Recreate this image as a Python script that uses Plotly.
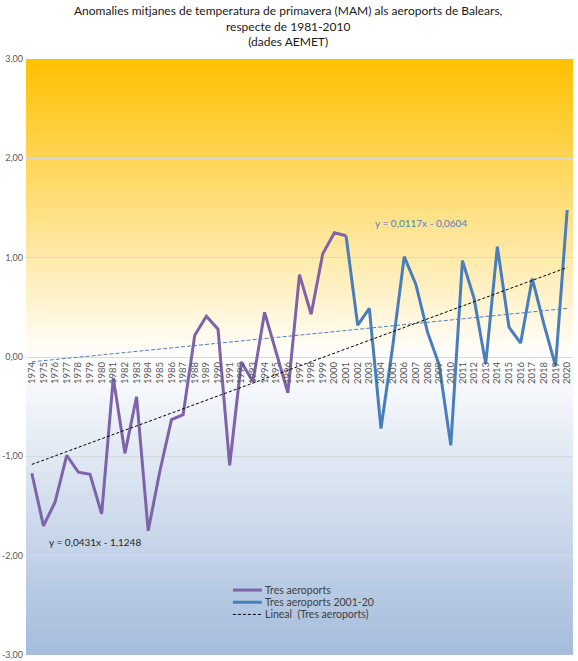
import plotly.graph_objects as go

# ---- data ----
years = [str(y) for y in range(1974, 2021)]
tres_years = [str(y) for y in range(1974, 2002)]
tres_vals = [-1.17, -1.70, -1.46, -0.99, -1.16, -1.18, -1.58, -0.21, -0.97, -0.40,
             -1.75, -1.15, -0.63, -0.58, 0.22, 0.41, 0.28, -1.09, -0.05, -0.25,
             0.45, 0.05, -0.36, 0.83, 0.43, 1.04, 1.25, 1.22]
recent_years = [str(y) for y in range(2001, 2021)]
recent_vals = [1.22, 0.32, 0.49, -0.72, 0.10, 1.01, 0.73, 0.25, -0.08, -0.89,
               0.97, 0.59, -0.07, 1.11, 0.30, 0.14, 0.79, 0.33, -0.09, 1.48]
trend_all = (0.0431, -1.1248)      # slope, intercept (x = 1..47)
trend_recent = (0.0117, -0.0604)
ytick_vals = [3, 2, 1, 0, -1, -2, -3]
ytick_text = ["3,00", "2,00", "1,00", "0,00", "-1,00", "-2,00", "-3,00"]

title = ("Anomalies mitjanes de temperatura de primavera (MAM) als aeroports de Balears,"
         "<br>respecte de 1981-2010<br>(dades AEMET)")

FONT = "Lato, 'Liberation Sans', sans-serif"
PURPLE = "#7F63A9"
BLUE = "#4A7EBB"

W, H = 578, 661
L, R, T, B = 26, 4.7, 58.5, 6
PW, PH = W - L - R, H - T - B

fig = go.Figure()

x_idx = list(range(1, len(years) + 1))
fig.add_trace(go.Scatter(x=tres_years, y=tres_vals, mode="lines",
                         line=dict(color=PURPLE, width=3), name="Tres aeroports",
                         showlegend=False))
fig.add_trace(go.Scatter(x=recent_years, y=recent_vals, mode="lines",
                         line=dict(color=BLUE, width=3), name="Tres aeroports 2001-20",
                         showlegend=False))
fig.add_trace(go.Scatter(x=years, y=[trend_recent[0] * i + trend_recent[1] for i in x_idx],
                         mode="lines", line=dict(color="#4F81BD", width=1, dash="4px,2px"),
                         showlegend=False, name="Lineal (Tres aeroports 2001-20)"))
fig.add_trace(go.Scatter(x=years, y=[trend_all[0] * i + trend_all[1] for i in x_idx],
                         mode="lines", line=dict(color="black", width=1, dash="3px,2px"),
                         showlegend=False, name="Lineal (Tres aeroports)"))

# ---- gradient background ----
def lerp(c1, c2, t):
    return tuple(round(a + (b - a) * t) for a, b in zip(c1, c2))

gold = (255, 192, 0)
white = (255, 255, 255)
blue_bg = (164, 188, 220)
shapes = []
n = 120
for k in range(n):
    y0 = -3 + 6 * k / n
    y1 = -3 + 6 * (k + 1) / n
    ym = (y0 + y1) / 2
    if ym >= 0:
        c = lerp(white, gold, ym / 3)
    else:
        c = lerp(white, blue_bg, -ym / 3)
    shapes.append(dict(type="rect", xref="paper", yref="y", x0=0, x1=1,
                       y0=y0, y1=y1 + 0.01, fillcolor="rgb(%d,%d,%d)" % c,
                       line=dict(width=0), layer="below"))

# ---- custom legend ----
legend_items = [("Tres aeroports", PURPLE, 3, "solid"),
                ("Tres aeroports 2001-20", BLUE, 3, "solid"),
                ("Lineal  (Tres aeroports)", "black", 1, "3px,2px")]
annotations = []
for j, (txt, col, wd, ds) in enumerate(legend_items):
    ypx = 590 + j * 12.2
    yp = 1 - (ypx - T) / PH
    x0p = (233 - L) / PW
    x1p = (262 - L) / PW
    shapes.append(dict(type="line", xref="paper", yref="paper", x0=x0p, x1=x1p,
                       y0=yp, y1=yp, line=dict(color=col, width=wd, dash=ds)))
    annotations.append(dict(xref="paper", yref="paper", x=(263 - L) / PW, y=yp,
                            text=txt, showarrow=False, xanchor="left", yanchor="middle",
                            font=dict(family=FONT, size=10.5, color="#404040")))

annotations.append(dict(xref="paper", yref="y", x=(95 - L) / PW, y=-1.86,
                        text="y = 0,0431x - 1,1248", showarrow=False,
                        xanchor="center", yanchor="middle",
                        font=dict(family=FONT, size=10, color="#262626")))
annotations.append(dict(xref="paper", yref="y", x=(421 - L) / PW, y=1.35,
                        text="y = 0,0117x - 0,0604", showarrow=False,
                        xanchor="center", yanchor="middle",
                        font=dict(family=FONT, size=10, color="#4F81BD")))
# title
annotations.append(dict(xref="paper", yref="paper", x=(289 - L) / PW,
                        y=1 + (T - 0.5) / PH, text=title, showarrow=False,
                        xanchor="center", yanchor="top", align="center",
                        font=dict(family=FONT, size=12, color="#1a1a1a")))

fig.update_layout(
    width=W, height=H,
    margin=dict(l=L, r=R, t=T, b=B),
    paper_bgcolor="white", plot_bgcolor="white",
    shapes=shapes, annotations=annotations,
    showlegend=False,
    xaxis=dict(type="category", categoryorder="array", categoryarray=years,
               range=[-0.5, len(years) - 0.5], anchor="free", position=0.5,
               showgrid=False, zeroline=False, showline=False, tickangle=-90,
               tickfont=dict(family=FONT, size=9.5, color="#595959"), ticks="",
               ticklabelstandoff=2, automargin=False),
    yaxis=dict(range=[-3, 3], tickvals=ytick_vals, ticktext=ytick_text,
               showgrid=True, gridcolor="#D9D9D9", gridwidth=1, zeroline=False,
               showline=False, ticks="", ticklabelstandoff=2,
               tickfont=dict(family=FONT, size=9, color="#595959"),
               automargin=False),
)

fig.write_html("out.html")
